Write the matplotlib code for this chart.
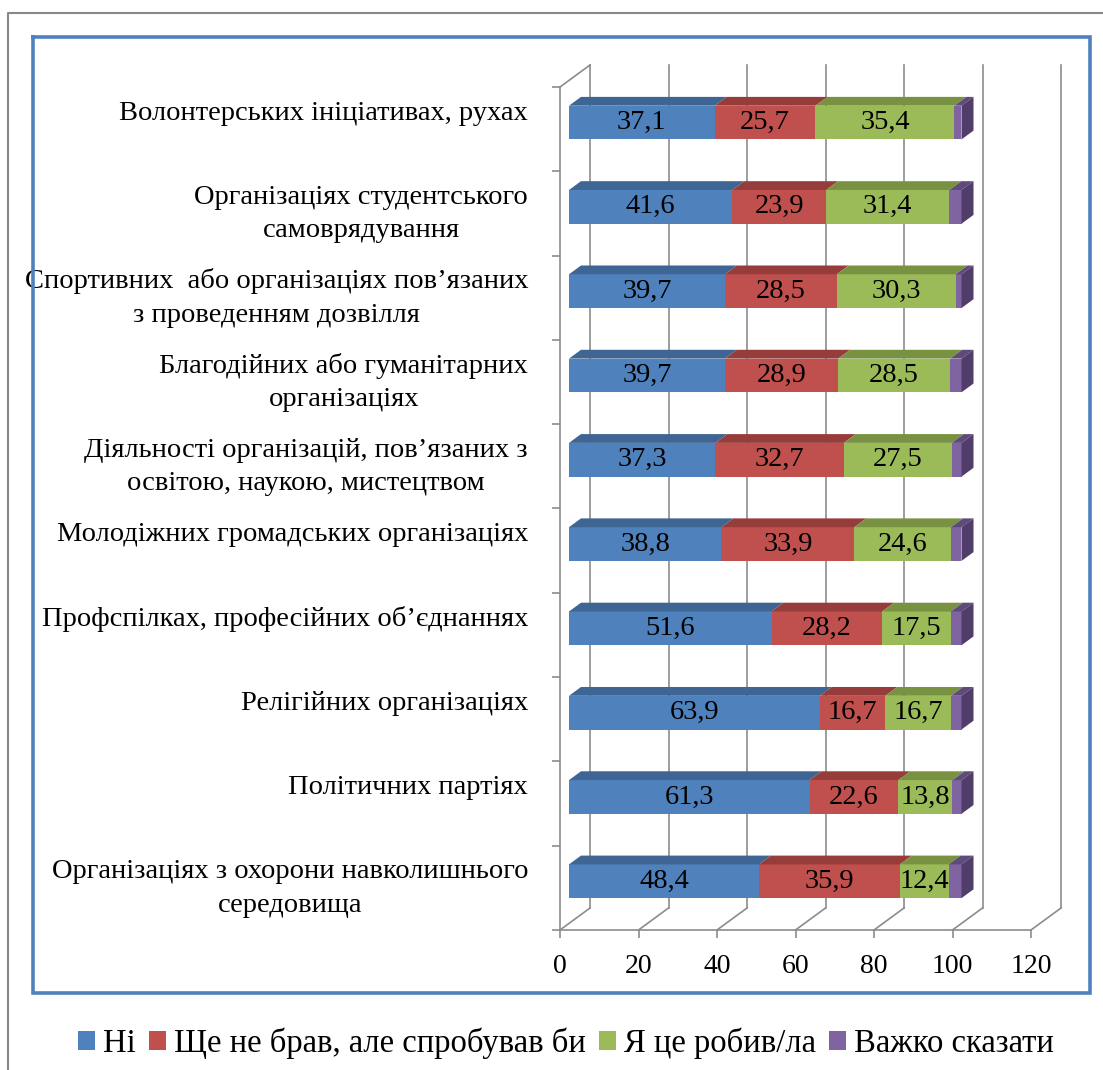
import matplotlib
matplotlib.use("Agg")
import matplotlib.pyplot as plt
from matplotlib.patches import Polygon, Patch
from matplotlib.lines import Line2D
from matplotlib.font_manager import FontProperties

# ---- data -------------------------------------------------------------
categories = [
    "Волонтерських ініціативах, рухах",
    "Організаціях студентського\nсамоврядування",
    "Спортивних  або організаціях пов’язаних\nз проведенням дозвілля",
    "Благодійних або гуманітарних\nорганізаціях",
    "Діяльності організацій, пов’язаних з\nосвітою, наукою, мистецтвом",
    "Молодіжних громадських організаціях",
    "Профспілках, професійних об’єднаннях",
    "Релігійних організаціях",
    "Політичних партіях",
    "Організаціях з охорони навколишнього\nсередовища",
]
no_vals = [37.1, 41.6, 39.7, 39.7, 37.3, 38.8, 51.6, 63.9, 61.3, 48.4]
maybe_vals = [25.7, 23.9, 28.5, 28.9, 32.7, 33.9, 28.2, 16.7, 22.6, 35.9]
did_vals = [35.4, 31.4, 30.3, 28.5, 27.5, 24.6, 17.5, 16.7, 13.8, 12.4]
hard_vals = [1.8, 3.1, 1.5, 2.9, 2.5, 2.7, 2.7, 2.7, 2.3, 3.3]
series_names = ["Ні", "Ще не брав, але спробував би", "Я це робив/ла", "Важко сказати"]
x_ticks = [0, 20, 40, 60, 80, 100, 120]

series = [no_vals, maybe_vals, did_vals, hard_vals]
front_colors = ["#4F81BD", "#C0504D", "#9BBB59", "#8064A2"]
top_colors = ["#3E6593", "#963D3B", "#789241", "#5F4A7C"]
side_color = "#503D69"
label_series = [True, True, True, False]

# ---- geometry (pixels) ------------------------------------------------
W, H = 1103, 1070
X0 = 560            # pixel position of value 0 on the front plane
PXU = 3.925         # pixels per value unit
XMAX = 120
Y_TOP, Y_BOT = 87, 930
NCAT = len(categories)
CAT_PX = (Y_BOT - Y_TOP) / NCAT
DEPTH_X, DEPTH_Y = 30, 22       # 3-D depth offset in pixels
DX = DEPTH_X / PXU              # depth offset in value units
DY = DEPTH_Y / CAT_PX           # depth offset in category units
BAR_D0, BAR_D1 = 0.3, 0.7       # bar depth range inside the box
BAR_H = 0.4

GRID = "#8C8C8C"
SERIF = ["Liberation Serif", "DejaVu Serif"]
font_cat = FontProperties(family=SERIF, size=20.5)
font_val = FontProperties(family=SERIF, size=20.5)
font_tick = FontProperties(family=SERIF, size=20)
font_leg = FontProperties(family=SERIF, size=23.5)

fig = plt.figure(figsize=(W / 100, H / 100), dpi=100)
fig.patch.set_facecolor("white")

ax = fig.add_axes([X0 / W, 1 - Y_BOT / H,
                   (XMAX + DX) * PXU / W, (Y_BOT - Y_TOP + DEPTH_Y) / H])
ax.set_xlim(0, XMAX + DX)
ax.set_ylim(NCAT, -DY)
ax.patch.set_alpha(0)


def proj(x, y, d):
    return (x + d * DX, y - d * DY)


# walls: back-wall gridlines, floor diagonals, left-wall top edge
for v in x_ticks:
    ax.plot([v + DX, v + DX], [-DY, NCAT - DY], color=GRID, lw=1.2,
            clip_on=False, zorder=1)
    ax.plot([v, v + DX], [NCAT, NCAT - DY], color=GRID, lw=1.2,
            clip_on=False, zorder=1)
ax.plot([0, DX], [0, -DY], color=GRID, lw=1.2, clip_on=False, zorder=1)

for side in ["top", "right"]:
    ax.spines[side].set_visible(False)
for side in ["left", "bottom"]:
    ax.spines[side].set_color(GRID)
    ax.spines[side].set_linewidth(1.2)
ax.spines["left"].set_bounds(0, NCAT)
ax.spines["bottom"].set_bounds(0, XMAX)
ax.set_yticks(range(NCAT + 1))
ax.set_yticklabels([])
ax.set_xticks(x_ticks)
ax.set_xticklabels([str(v) for v in x_ticks], fontproperties=font_tick)
ax.tick_params(axis="both", direction="out", length=6, width=1.2, color=GRID)
ax.tick_params(axis="x", pad=11)

# stacked 3-D bars
for i in range(NCAT):
    y_top = i + 0.5 - BAR_H / 2
    y_bot = i + 0.5 + BAR_H / 2
    cum = 0.0
    for s, vals in enumerate(series):
        v = vals[i]
        ax.barh(y_top + BAR_H / 2 - BAR_D0 * DY, v, left=cum + BAR_D0 * DX,
                height=BAR_H, color=front_colors[s], linewidth=0, zorder=3)
        top = [proj(cum, y_top, BAR_D0), proj(cum + v, y_top, BAR_D0),
               proj(cum + v, y_top, BAR_D1), proj(cum, y_top, BAR_D1)]
        ax.add_patch(Polygon(top, closed=True, facecolor=top_colors[s],
                             edgecolor="none", zorder=3, clip_on=False))
        if s == len(series) - 1:
            side_face = [proj(cum + v, y_top, BAR_D0), proj(cum + v, y_top, BAR_D1),
                         proj(cum + v, y_bot, BAR_D1), proj(cum + v, y_bot, BAR_D0)]
            ax.add_patch(Polygon(side_face, closed=True, facecolor=side_color,
                                 edgecolor="none", zorder=3, clip_on=False))
        if label_series[s]:
            cx, cy = proj(cum + v / 2, i + 0.5, BAR_D0)
            ax.text(cx, cy, f"{v:.1f}".replace(".", ","), ha="center",
                    va="center", fontproperties=font_val, color="black", zorder=5)
        cum += v

# category labels
for i, lab in enumerate(categories):
    n = lab.count("\n") + 1
    ax.annotate(lab, xy=(0, i + 0.5), xycoords=("axes fraction", "data"),
                xytext=(-32, 16 - (n - 1) * 16.5), textcoords="offset pixels",
                ha="right", va="center", multialignment="center",
                fontproperties=font_cat, linespacing=1.45, annotation_clip=False)

# legend
handles = [Patch(facecolor=c, edgecolor="none", label=n)
           for c, n in zip(front_colors, series_names)]
fig.legend(handles=handles, loc="center", bbox_to_anchor=(566 / W, 1 - 1043 / H),
           ncol=4, frameon=False, prop=font_leg, handlelength=0.52, handleheight=0.52,
           handletextpad=0.25, columnspacing=0.4, borderaxespad=0)

# chart frames
fig.add_artist(Line2D([8 / W, 8 / W, 1], [0, 1 - 13 / H, 1 - 13 / H],
                      transform=fig.transFigure, color="#888888", lw=1.5))
fig.add_artist(Line2D([33 / W, 1090 / W, 1090 / W, 33 / W, 33 / W],
                      [1 - 37 / H, 1 - 37 / H, 1 - 993 / H, 1 - 993 / H, 1 - 37 / H],
                      transform=fig.transFigure, color="#4F81BD", lw=2.6,
                      solid_joinstyle="miter"))

fig.savefig("out.png", dpi=100, facecolor="white")
